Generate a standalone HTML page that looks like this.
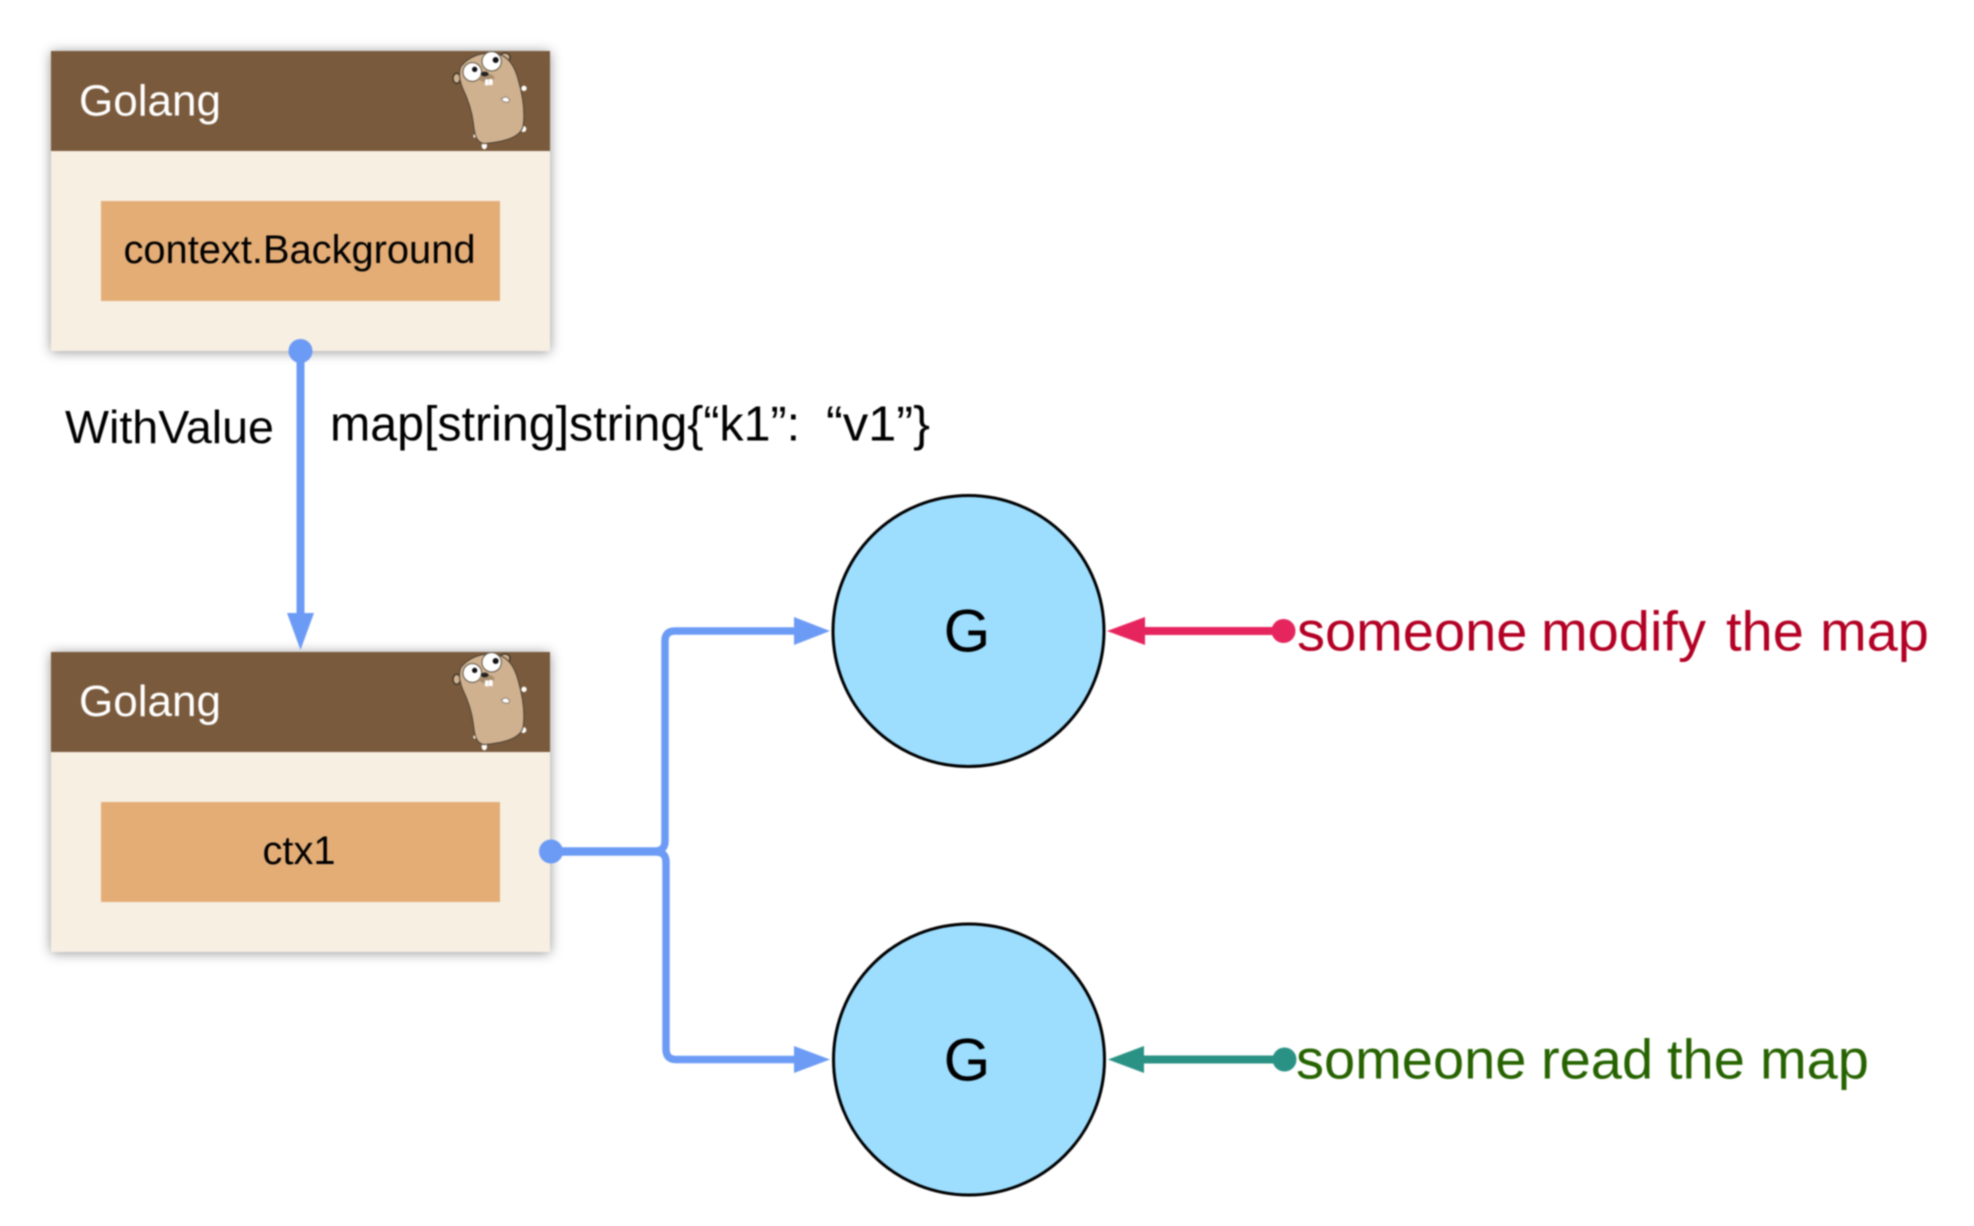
<!DOCTYPE html>
<html lang="en">
<head>
<meta charset="utf-8">
<title>Golang context WithValue diagram</title>
<style>
html,body{margin:0;padding:0;background:#fff;width:1974px;height:1226px;overflow:hidden}
svg{display:block;filter:blur(0.7px)}
text{font-family:"Liberation Sans",Arial,sans-serif}
</style>
</head>
<body>
<svg xmlns="http://www.w3.org/2000/svg" width="1974" height="1226" viewBox="0 0 1974 1226">
<defs>
<filter id="sh" x="-10%" y="-10%" width="120%" height="120%">
<feDropShadow dx="0" dy="1" stdDeviation="6" flood-color="#000" flood-opacity="0.42"/>
</filter>
<g id="gopher" transform="translate(440 40) scale(0.3333)">
<ellipse cx="50" cy="115" rx="11" ry="15" fill="#cfb18f" stroke="#3a3228" stroke-width="4"/>
<ellipse cx="195" cy="52" rx="15" ry="13" fill="#cfb18f" stroke="#3a3228" stroke-width="4"/>
<circle cx="252" cy="145" r="8" fill="#fff"/>
<circle cx="250" cy="267" r="9" fill="#fff"/>
<ellipse cx="133" cy="317" rx="8" ry="11" fill="#fff"/>
<circle cx="105" cy="288" r="5" fill="#fff"/>
<path d="M62 80C85 50 125 35 165 40C205 45 225 80 235 120C248 165 255 215 250 255C245 290 200 305 130 311C108 305 104 285 100 250C95 205 80 170 68 145C58 120 55 100 62 80Z" fill="#cfb18f" stroke="#4a3f32" stroke-width="3"/>
<circle cx="97" cy="96" r="28" fill="#fff" stroke="#5f5546" stroke-width="3"/>
<circle cx="155" cy="64" r="29" fill="#fff" stroke="#5f5546" stroke-width="3"/>
<circle cx="104" cy="88" r="8" fill="#111"/>
<circle cx="167" cy="60" r="9" fill="#111"/>
<ellipse cx="140" cy="114" rx="23" ry="13" fill="#a98e6e"/>
<ellipse cx="134" cy="102" rx="12" ry="7" fill="#222"/>
<rect x="135" y="118" width="11" height="18" fill="#fff"/>
<rect x="147" y="117" width="11" height="18" fill="#fff"/>
<path d="M184 176L198 170L209 178L205 187L190 185Z" fill="#fff" stroke="#6d6152" stroke-width="2"/>
</g>
</defs>

<!-- Box 1 -->
<rect x="51" y="51" width="499" height="300" fill="#f7efe2" filter="url(#sh)"/>
<rect x="51" y="51" width="499" height="100" fill="#7a5a3c"/>
<rect x="101" y="201" width="399" height="100" fill="#e4ad76"/>
<use href="#gopher"/>
<text x="79" y="115.500" font-size="44" fill="#fff" textLength="142" lengthAdjust="spacingAndGlyphs">Golang</text>
<text x="123.500" y="263" font-size="40" fill="#000" textLength="352" lengthAdjust="spacingAndGlyphs">context.Background</text>

<!-- Box 2 -->
<rect x="51" y="652" width="499" height="300" fill="#f7efe2" filter="url(#sh)"/>
<rect x="51" y="652" width="499" height="100" fill="#7a5a3c"/>
<rect x="101" y="802" width="399" height="100" fill="#e4ad76"/>
<use href="#gopher" y="601"/>
<text x="79" y="716" font-size="44" fill="#fff" textLength="142" lengthAdjust="spacingAndGlyphs">Golang</text>
<text x="262.500" y="864" font-size="40" fill="#000" textLength="73" lengthAdjust="spacingAndGlyphs">ctx1</text>

<!-- WithValue arrow -->
<circle cx="300.500" cy="351" r="12" fill="#6c9bf5"/>
<line x1="300.500" y1="351" x2="300.500" y2="620" stroke="#6c9bf5" stroke-width="8"/>
<polygon points="287,613 314,613 300.500,650" fill="#6c9bf5"/>
<text x="65" y="443" font-size="46" fill="#000" textLength="209" lengthAdjust="spacingAndGlyphs">WithValue</text>
<text x="330" y="440.500" font-size="49" fill="#000" textLength="470" lengthAdjust="spacingAndGlyphs">map[string]string{“k1”:</text>
<text x="826" y="440.500" font-size="49" fill="#000" textLength="104" lengthAdjust="spacingAndGlyphs">“v1”}</text>

<!-- Circles -->
<circle cx="968.500" cy="631" r="135.500" fill="#9ddeff" stroke="#000" stroke-width="3"/>
<circle cx="969" cy="1059.500" r="135.500" fill="#9ddeff" stroke="#000" stroke-width="3"/>
<text x="967" y="651.500" font-size="60" fill="#000" text-anchor="middle">G</text>
<text x="967" y="1080.500" font-size="60" fill="#000" text-anchor="middle">G</text>

<!-- Branching connector -->
<circle cx="551" cy="851.500" r="12" fill="#6c9bf5"/>
<path d="M551 851H655Q665 851 665 841V641Q665 631 675 631H798" fill="none" stroke="#6c9bf5" stroke-width="7.500"/>
<path d="M551 852H656Q666 852 666 862V1049Q666 1059.500 676 1059.500H798" fill="none" stroke="#6c9bf5" stroke-width="7.500"/>
<polygon points="794,617 794,645 830,631" fill="#6c9bf5"/>
<polygon points="794,1046 794,1073 830,1059.500" fill="#6c9bf5"/>

<!-- Red arrow -->
<line x1="1284" y1="631" x2="1140" y2="631" stroke="#e6255f" stroke-width="8"/>
<polygon points="1145,617 1145,645 1107,631" fill="#e6255f"/>
<circle cx="1283.500" cy="631" r="12" fill="#e6255f"/>
<text y="650.500" font-size="56" fill="#b30024"><tspan x="1297">someone</tspan><tspan x="1541">modify</tspan><tspan x="1726">the</tspan><tspan x="1820">map</tspan></text>

<!-- Teal arrow -->
<line x1="1284" y1="1059.500" x2="1140" y2="1059.500" stroke="#2a9285" stroke-width="8"/>
<polygon points="1144,1046 1144,1073 1108,1059.500" fill="#2a9285"/>
<circle cx="1284.500" cy="1059.500" r="12" fill="#2a9285"/>
<text y="1078.500" font-size="56" fill="#266300"><tspan x="1296">someone</tspan><tspan x="1541">read</tspan><tspan x="1667">the</tspan><tspan x="1760">map</tspan></text>
</svg>
</body>
</html>
